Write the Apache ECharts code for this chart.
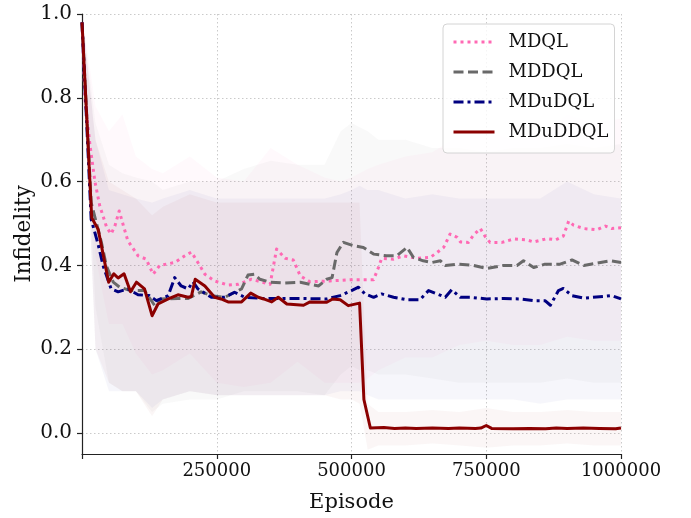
<!DOCTYPE html>
<html>
<head>
<meta charset="utf-8">
<script src="https://cdn.jsdelivr.net/npm/echarts@6/dist/echarts.min.js"></script>
<style>html,body{margin:0;padding:0;background:#fff}#chart{width:691px;height:518px}</style>
</head>
<body>
<div id="chart"></div>
<script>
// ---- data ----
const yTicks = [0, 0.2, 0.4, 0.6, 0.8, 1.0];
const xTicks = [0, 250000, 500000, 750000, 1000000];

const mdqlX = [0,5600,15000,24000,33000,46000,54000,61000,69000,77000,85000,104000,119000,132000,144000,172000,191000,203000,215000,228000,246000,271000,290000,314000,335000,349000,361000,377000,392000,405000,423000,460000,498000,541000,550000,556000,578000,596000,621000,646000,659000,671000,683000,696000,702000,717000,726000,739000,748000,757000,779000,801000,825000,838000,863000,879000,893000,903000,912000,931000,955000,971000,983000,1000000];
const mdqlY = [0.98,0.796,0.685,0.60,0.542,0.49,0.475,0.494,0.53,0.494,0.459,0.423,0.415,0.379,0.40,0.407,0.423,0.432,0.407,0.379,0.363,0.353,0.355,0.367,0.36,0.355,0.439,0.417,0.413,0.375,0.361,0.363,0.366,0.366,0.395,0.417,0.415,0.423,0.417,0.419,0.431,0.443,0.475,0.467,0.456,0.455,0.472,0.488,0.469,0.455,0.455,0.463,0.461,0.456,0.464,0.461,0.47,0.506,0.496,0.488,0.485,0.494,0.488,0.49];

const mddqlX = [0,17000,36000,45000,58000,70000,90000,116000,135000,147000,178000,197000,221000,240000,265000,296000,308000,320000,330000,349000,374000,405000,423000,439000,454000,464000,473000,485000,504000,522000,541000,565000,584000,603000,615000,633000,649000,665000,674000,696000,726000,751000,782000,807000,819000,838000,859000,887000,909000,931000,962000,980000,1000000];
const mddqlY = [0.98,0.55,0.455,0.40,0.36,0.348,0.34,0.34,0.304,0.32,0.321,0.321,0.337,0.328,0.324,0.344,0.377,0.379,0.367,0.36,0.358,0.36,0.355,0.351,0.367,0.371,0.431,0.455,0.447,0.443,0.427,0.423,0.423,0.443,0.419,0.411,0.407,0.411,0.40,0.403,0.40,0.393,0.40,0.40,0.411,0.395,0.403,0.403,0.413,0.40,0.407,0.411,0.407];

const mdudqlX = [0,17000,30000,39000,54000,67000,85000,104000,125000,138000,160000,172000,184000,197000,206000,215000,240000,265000,283000,302000,337000,374000,411000,454000,479000,500000,513000,525000,541000,556000,578000,603000,627000,643000,659000,674000,686000,702000,720000,751000,782000,813000,838000,859000,869000,884000,893000,909000,931000,968000,983000,1000000];
const mdudqlY = [0.98,0.51,0.45,0.40,0.344,0.337,0.344,0.33,0.328,0.316,0.328,0.371,0.351,0.344,0.361,0.344,0.324,0.324,0.336,0.324,0.321,0.321,0.321,0.32,0.328,0.34,0.348,0.332,0.324,0.332,0.324,0.318,0.318,0.34,0.332,0.324,0.342,0.324,0.324,0.32,0.321,0.32,0.316,0.316,0.305,0.34,0.345,0.328,0.322,0.326,0.328,0.32];

const mduddqlX = [0,18000,30000,49500,59000,67000,78000,90000,101000,116000,130000,141000,160000,178000,197000,203000,210000,228000,246000,258000,271000,296000,313000,327000,337000,352000,364000,380000,411000,423000,454000,465000,479000,494000,515000,523000,535000,560000,580000,600000,620000,650000,680000,700000,730000,740000,750000,760000,800000,830000,860000,880000,900000,930000,960000,990000,1000000];
const mduddqlY = [0.98,0.514,0.486,0.36,0.38,0.37,0.38,0.337,0.36,0.344,0.28,0.308,0.32,0.33,0.324,0.326,0.367,0.351,0.324,0.32,0.313,0.313,0.334,0.324,0.32,0.313,0.324,0.308,0.305,0.313,0.312,0.32,0.318,0.304,0.31,0.08,0.012,0.013,0.011,0.012,0.011,0.012,0.011,0.012,0.011,0.012,0.018,0.011,0.010,0.011,0.010,0.012,0.011,0.012,0.011,0.010,0.012];

// shaded spread (lower / upper) sampled at bandX
const bandX = [0,25000,50000,75000,100000,130000,150000,200000,250000,300000,350000,400000,450000,480000,500000,515000,530000,550000,600000,650000,700000,750000,800000,850000,900000,950000,1000000];
const mdqlHi = [1.0,0.78,0.72,0.76,0.66,0.63,0.62,0.66,0.61,0.60,0.68,0.64,0.61,0.60,0.61,0.62,0.63,0.64,0.66,0.67,0.71,0.72,0.70,0.71,0.76,0.74,0.75];
const mdqlLo = [0.95,0.42,0.26,0.26,0.19,0.14,0.15,0.19,0.12,0.11,0.12,0.17,0.12,0.12,0.12,0.12,0.13,0.15,0.18,0.18,0.21,0.22,0.21,0.21,0.23,0.22,0.22];
const mddqlHi = [1.0,0.74,0.64,0.62,0.61,0.60,0.58,0.60,0.60,0.63,0.65,0.64,0.64,0.72,0.74,0.73,0.72,0.70,0.70,0.68,0.68,0.67,0.68,0.68,0.69,0.68,0.69];
const mddqlLo = [0.95,0.30,0.12,0.10,0.10,0.05,0.07,0.08,0.08,0.10,0.10,0.10,0.09,0.14,0.16,0.15,0.15,0.14,0.14,0.13,0.12,0.12,0.12,0.12,0.13,0.12,0.12];
const mdudqlHi = [1.0,0.70,0.58,0.57,0.56,0.55,0.56,0.58,0.56,0.56,0.56,0.56,0.56,0.57,0.58,0.59,0.58,0.58,0.56,0.57,0.56,0.56,0.56,0.56,0.60,0.57,0.56];
const mdudqlLo = [0.95,0.20,0.10,0.10,0.10,0.06,0.08,0.10,0.09,0.09,0.09,0.09,0.09,0.10,0.10,0.10,0.09,0.08,0.08,0.08,0.08,0.08,0.08,0.07,0.08,0.08,0.08];
const mduddqlHi = [1.0,0.70,0.60,0.58,0.56,0.52,0.54,0.57,0.55,0.55,0.55,0.55,0.55,0.55,0.55,0.55,0.07,0.05,0.05,0.055,0.05,0.06,0.05,0.05,0.055,0.05,0.05];
const mduddqlLo = [0.95,0.20,0.12,0.10,0.10,0.04,0.08,0.10,0.09,0.09,0.09,0.09,0.09,0.08,0.08,0.07,-0.04,-0.03,-0.03,-0.025,-0.03,-0.035,-0.03,-0.03,-0.025,-0.03,-0.03];

const names = ['MDQL', 'MDDQL', 'MDuDQL', 'MDuDDQL'];
// ---- chart ----
const FONT = 'DejaVu Serif';
const pairs = (xs, ys) => xs.map((x, i) => [x, ys[i]]);

function band(color, lo, hi) {
  return {
    type: 'custom', silent: true, z: 1, clip: true,
    data: bandX.map((x, i) => [x, lo[i], hi[i]]),
    encode: { x: 0, y: [1, 2] },
    renderItem: function (params, api) {
      if (params.dataIndex !== 0) return null;
      const pts = [];
      for (let i = 0; i < bandX.length; i++) pts.push(api.coord([bandX[i], hi[i]]));
      for (let i = bandX.length - 1; i >= 0; i--) pts.push(api.coord([bandX[i], lo[i]]));
      return { type: 'polygon', shape: { points: pts }, style: { fill: color } };
    }
  };
}
function line(name, xs, ys, color, type, width) {
  return {
    name: name, type: 'line', data: pairs(xs, ys), symbol: 'none', z: 3,
    lineStyle: { color: color, width: width, type: type, cap: 'butt', join: 'round' },
    itemStyle: { color: color }
  };
}

const chart = echarts.init(document.getElementById('chart'), null, { renderer: 'canvas' });
chart.setOption({
  animation: false,
  backgroundColor: '#ffffff',
  grid: { left: 82, right: 70, top: 14, bottom: 62, containLabel: false },
  legend: {
    data: names, orient: 'vertical', left: 443, top: 24,
    itemWidth: 41, itemHeight: 18, itemGap: 12,
    padding: [9, 6, 12, 9],
    itemStyle: { opacity: 0 },
    lineStyle: { width: 3 },
    backgroundColor: 'rgba(255,255,255,0.8)', borderColor: '#d4d4d4', borderWidth: 1, borderRadius: 4,
    textStyle: { fontFamily: FONT, fontSize: 18, color: '#111', padding: [0, 0, 0, 9] }
  },
  xAxis: {
    type: 'value', min: 0, max: 1000000, interval: 250000,
    name: 'Episode', nameLocation: 'middle', nameGap: 38, nameMoveOverlap: false,
    nameTextStyle: { fontFamily: FONT, fontSize: 21, color: '#111' },
    axisLine: { show: true, onZero: false, lineStyle: { color: '#222', width: 1.2 } },
    axisTick: { show: true, length: 5, lineStyle: { color: '#222', width: 1.2 } },
    axisLabel: { fontFamily: FONT, fontSize: 18, color: '#111', margin: 8,
      formatter: v => (v === 0 ? '' : String(v)) },
    splitLine: { show: true, lineStyle: { color: '#c4c4c4', width: 0.9, type: [1.5, 2.5] } }
  },
  yAxis: {
    type: 'value', min: -0.05, max: 1.0,
    name: 'Infidelity', nameLocation: 'middle', nameGap: 47, nameMoveOverlap: false,
    nameTextStyle: { fontFamily: FONT, fontSize: 21.5, color: '#111' },
    axisLine: { show: true, onZero: false, lineStyle: { color: '#222', width: 1.2 } },
    axisTick: { show: true, length: 5, customValues: yTicks, lineStyle: { color: '#222', width: 1.2 } },
    axisLabel: { fontFamily: FONT, fontSize: 20, color: '#111', margin: 10, customValues: yTicks,
      formatter: v => v.toFixed(1) },
    splitLine: { show: true, lineStyle: { color: '#c4c4c4', width: 0.9, type: [1.5, 2.5] } }
  },
  series: [
    band('rgba(255,105,180,0.045)', mdqlLo, mdqlHi),
    band('rgba(105,105,105,0.04)', mddqlLo, mddqlHi),
    band('rgba(0,0,128,0.035)', mdudqlLo, mdudqlHi),
    band('rgba(139,0,0,0.035)', mduddqlLo, mduddqlHi),
    line(names[0], mdqlX, mdqlY, '#ff69b4', [3, 4], 3),
    line(names[1], mddqlX, mddqlY, '#696969', [10, 4.5], 3),
    line(names[2], mdudqlX, mdudqlY, '#000080', [10, 4, 3, 4], 3),
    line(names[3], mduddqlX, mduddqlY, '#8b0000', 'solid', 3)
  ]
});
</script>
</body>
</html>
